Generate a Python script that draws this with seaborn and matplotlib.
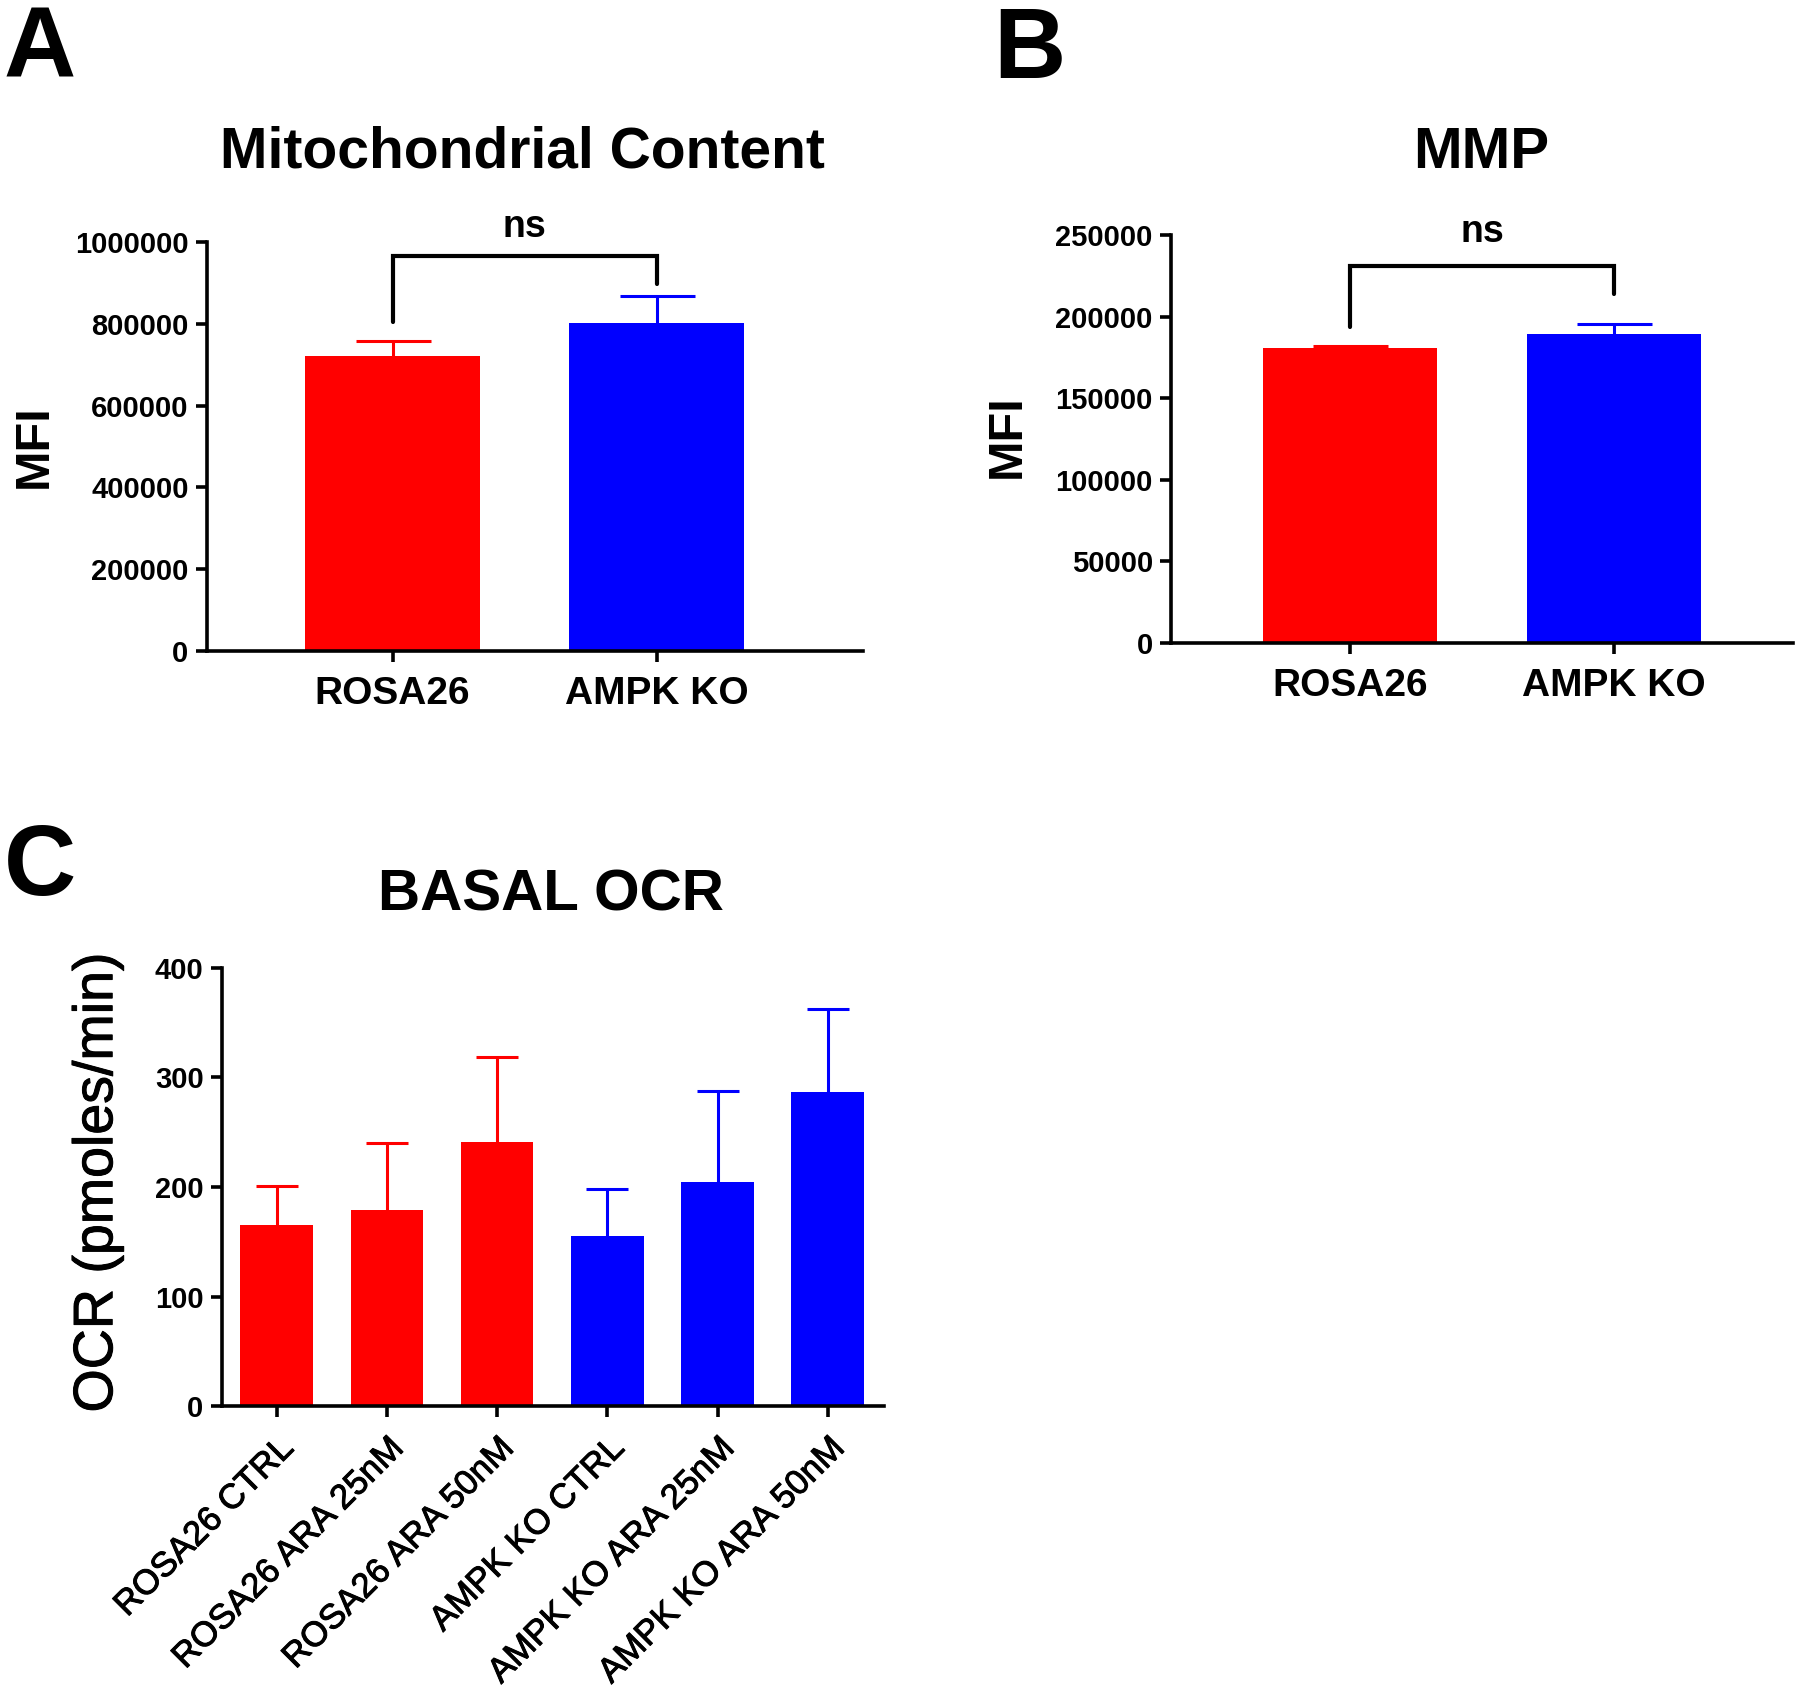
import matplotlib
matplotlib.use("Agg")
import matplotlib.pyplot as plt
import matplotlib.patheffects as pe
import seaborn as sns

# panel A - mitochondrial content
groups_ab = ["ROSA26", "AMPK KO"]
mito_mean = [722000, 802000]
mito_err = [37000, 66000]
mito_bracket = [965000, 805000, 898000]   # bar top, left leg end, right leg end

# panel B - MMP
mmp_mean = [181000, 189600]
mmp_err = [1000, 6000]
mmp_bracket = [231500, 194000, 214000]

# panel C - basal OCR
ocr_groups = ["ROSA26 CTRL", "ROSA26 ARA 25nM", "ROSA26 ARA 50nM",
              "AMPK KO CTRL", "AMPK KO ARA 25nM", "AMPK KO ARA 50nM"]
ocr_mean = [165, 179, 241, 155, 205, 287]
ocr_err = [36, 61, 78, 43, 83, 75]

RED = "#ff0000"
BLUE = "#0000ff"

sns.set_style("ticks")
plt.rcParams["font.family"] = ["Liberation Sans", "DejaVu Sans"]
plt.rcParams["font.weight"] = "bold"
for key in ("text.color", "axes.labelcolor", "xtick.color", "ytick.color",
            "axes.edgecolor"):
    plt.rcParams[key] = "black"

# regular text in panel C looks a bit heavier than plain Liberation Sans
thicken = [pe.withStroke(linewidth=0.7, foreground="black")]


def bar_panel(ax, cats, means, errs, colors, ymax, yticks, xlim, ylabel,
              label_xy, capsize, xlab_size=28, rot=0, label_weight="bold",
              xlab_weight="bold"):
    sns.barplot(x=cats, y=means, hue=cats, palette=colors, legend=False,
                errorbar=None, width=0.66, saturation=1, linewidth=0, ax=ax)
    for i, (m, e) in enumerate(zip(means, errs)):
        _, caps, _ = ax.errorbar(i, m, yerr=[[0], [e]], fmt="none",
                                 ecolor=colors[i], elinewidth=2.2,
                                 capsize=capsize, capthick=2.2, zorder=0.5)
        # GraphPad style: only the upper cap is drawn
        for c in caps:
            if c.get_ydata()[0] <= m:
                c.remove()
    ax.set_ylim(0, ymax)
    ax.set_yticks(yticks)
    ax.set_xlim(*xlim)
    sns.despine(ax=ax)
    for s in ("left", "bottom"):
        ax.spines[s].set_linewidth(2.6)
    ax.tick_params(axis="both", width=2.6, length=8, pad=5)
    ax.tick_params(axis="y", labelsize=21)
    ax.tick_params(axis="x", labelsize=xlab_size, pad=10)
    ax.set_yticklabels([str(t) for t in yticks], fontweight="bold")
    effects = thicken if xlab_weight == "normal" else None
    if rot:
        ax.set_xticks(range(len(cats)))
        ax.set_xticklabels(cats, rotation=rot, ha="right",
                           rotation_mode="anchor", fontsize=xlab_size,
                           fontweight=xlab_weight, path_effects=effects)
    else:
        for t in ax.get_xticklabels():
            t.set_fontweight(xlab_weight)
    ax.set_xlabel("")
    ax.set_ylabel(ylabel, fontsize=label_xy[2], fontweight=label_weight,
                  path_effects=thicken if label_weight == "normal" else None)
    ax.yaxis.set_label_coords(label_xy[0], label_xy[1])


def bracket(ax, levels, text, ytext):
    top, left_end, right_end = levels
    ax.plot([0, 0, 1, 1], [left_end, top, top, right_end], color="black",
            lw=3.0, clip_on=False, solid_joinstyle="miter")
    ax.text(0.5, ytext, text, ha="center", va="center", fontsize=27,
            fontweight="bold", clip_on=False)


fig = plt.figure(figsize=(18, 16.91), dpi=100)

ax_a = fig.add_axes([0.1148, 0.6151, 0.3648, 0.2417])
bar_panel(ax_a, groups_ab, mito_mean, mito_err, [RED, BLUE], 1000000,
          [0, 200000, 400000, 600000, 800000, 1000000], (-0.704, 1.783),
          "MFI", (-0.228, 0.5, 35), capsize=27)
bracket(ax_a, mito_bracket, "ns", 1036000)

ax_b = fig.add_axes([0.6505, 0.6198, 0.3457, 0.2410])
bar_panel(ax_b, groups_ab, mmp_mean, mmp_err, [RED, BLUE], 250000,
          [0, 50000, 100000, 150000, 200000, 250000], (-0.678, 1.678),
          "MFI", (-0.227, 0.507, 35), capsize=27)
bracket(ax_b, mmp_bracket, "ns", 252000)

ax_c = fig.add_axes([0.1231, 0.1684, 0.3680, 0.2593])
bar_panel(ax_c, ocr_groups, ocr_mean, ocr_err, [RED] * 3 + [BLUE] * 3, 400,
          [0, 100, 200, 300, 400], (-0.5, 5.51),
          "OCR (pmoles/min)", (-0.147, 0.51, 40), capsize=15,
          xlab_size=25, rot=45, label_weight="normal", xlab_weight="normal")

fig.text(0.290, 0.9097, "Mitochondrial Content", ha="center", va="center",
         fontsize=41, fontweight="bold")
fig.text(0.8227, 0.9097, "MMP", ha="center", va="center",
         fontsize=42, fontweight="bold")
fig.text(0.306, 0.4705, "BASAL OCR", ha="center", va="center",
         fontsize=42, fontweight="bold")

fig.text(0.0223, 0.9695, "A", ha="center", va="center", fontsize=72,
         fontweight="bold")
fig.text(0.572, 0.9695, "B", ha="center", va="center", fontsize=72,
         fontweight="bold")
fig.text(0.0223, 0.486, "C", ha="center", va="center", fontsize=72,
         fontweight="bold")

fig.savefig("out.png", dpi=100)
plt.close(fig)
